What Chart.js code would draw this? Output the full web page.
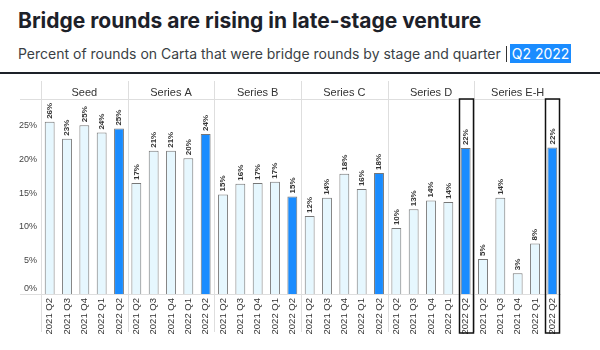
<!DOCTYPE html>
<html>
<head>
<meta charset="utf-8">
<script src="https://cdn.jsdelivr.net/npm/chart.js@4"></script>
<style>
  body { margin: 0; width: 600px; height: 350px; background: #fff; font-family: Inter, "Noto Sans", sans-serif; position: relative; overflow: hidden; }
  h1 { position: absolute; left: 18px; top: 8px; margin: 0; font-size: 21px; line-height: 26px; font-weight: 700; color: #1d2129; }
  .sub { position: absolute; left: 18px; top: 45px; font-size: 14px; color: #3a3f45; white-space: nowrap; }
  .pipe { display: inline-block; width: 1px; height: 16px; background: #333; vertical-align: -3px; margin: 0 3px 0 5px; }
  .tag { background: #1a8cff; color: #fff; padding: 1px 2px; }
  .rule { position: absolute; left: 0; top: 72px; width: 600px; height: 2px; background: #1d2129; }
  #wrap { position: absolute; left: 0; top: 76px; width: 600px; height: 274px; }
</style>
</head>
<body>
<h1>Bridge rounds are rising in late-stage venture</h1>
<div class="sub">Percent of rounds on Carta that were bridge rounds by stage and quarter<span class="pipe"></span><span class="tag">Q2 2022</span></div>
<div class="rule"></div>
<div id="wrap"><canvas id="chart" width="600" height="274"></canvas></div>
<script>
// chart data
const stages = ['Seed', 'Series A', 'Series B', 'Series C', 'Series D', 'Series E-H'];
const quarters = ['2021 Q2', '2021 Q3', '2021 Q4', '2022 Q1', '2022 Q2'];
const seed = [25.6, 23.1, 25.1, 24.0, 24.6];
const seriesA = [16.5, 21.3, 21.3, 20.2, 23.8];
const seriesB = [14.8, 16.4, 16.5, 16.7, 14.5];
const seriesC = [11.6, 14.3, 17.9, 15.6, 18.0];
const seriesD = [9.8, 12.6, 13.9, 13.7, 21.7];
const seriesEH = [5.2, 14.3, 3.1, 7.5, 21.8];
const yTicks = [0, 5, 10, 15, 20, 25];
const boxedStages = ['Series D', 'Series E-H'];

const BLUE = '#1a8cff';
const LIGHT = '#e6f7fe';
const LABEL_FONT = '"Liberation Sans", Arial, sans-serif';

// flatten stages x quarters into one category axis
const stageValues = [seed, seriesA, seriesB, seriesC, seriesD, seriesEH];
const labels = [];
const values = [];
stageValues.forEach(arr => {
    quarters.forEach((q, i) => {
        labels.push(q);
        values.push(arr[i]);
    });
});
const lastQ = quarters.length - 1;
const colors = values.map((v, i) => (i % quarters.length === lastQ ? BLUE : LIGHT));
const boxedIdx = boxedStages.map(s => stages.indexOf(s) * quarters.length + lastQ);

const panelPlugin = {
    id: 'panels',
    beforeDatasetsDraw(chart) {
        const ctx = chart.ctx;
        const a = chart.chartArea;
        const w = (a.right - a.left) / stages.length;
        ctx.save();
        ctx.strokeStyle = '#dedede';
        ctx.lineWidth = 1;
        ctx.beginPath();
        ctx.moveTo(20, Math.round(a.top) + 0.5);
        ctx.lineTo(a.right, Math.round(a.top) + 0.5);
        ctx.moveTo(20, Math.round(a.bottom) + 0.5);
        ctx.lineTo(a.right, Math.round(a.bottom) + 0.5);
        for (let i = 0; i < stages.length; i++) {
            const px = Math.round(a.left + i * w) + 0.5;
            ctx.moveTo(px, 5);
            ctx.lineTo(px, a.bottom + 38);
        }
        ctx.stroke();

        // stage headers
        ctx.fillStyle = '#333';
        ctx.font = '11px ' + LABEL_FONT;
        ctx.textAlign = 'center';
        ctx.textBaseline = 'middle';
        stages.forEach((s, i) => ctx.fillText(s, a.left + (i + 0.5) * w, 17));

        // 0% label sits just above the baseline
        ctx.fillStyle = '#444';
        ctx.font = '9px ' + LABEL_FONT;
        ctx.textAlign = 'right';
        ctx.fillText('0%', a.left - 4, a.bottom - 5);
        ctx.restore();
    },
    afterDatasetsDraw(chart) {
        const ctx = chart.ctx;
        const a = chart.chartArea;
        const meta = chart.getDatasetMeta(0);
        ctx.save();
        // value labels, rotated
        ctx.fillStyle = '#333';
        ctx.font = 'bold 8px ' + LABEL_FONT;
        ctx.textAlign = 'left';
        ctx.textBaseline = 'middle';
        meta.data.forEach((bar, i) => {
            ctx.save();
            ctx.translate(bar.x, bar.y - 3);
            ctx.rotate(-Math.PI / 2);
            ctx.fillText(Math.round(values[i]) + '%', 0, 0);
            ctx.restore();
        });
        // boxes around the late-stage Q2 2022 bars
        ctx.strokeStyle = '#111';
        ctx.lineWidth = 1.5;
        boxedIdx.forEach(i => {
            const bar = meta.data[i];
            ctx.strokeRect(Math.round(bar.x - 7) + 0.5, a.top, 14, a.bottom + 39 - a.top);
        });
        ctx.restore();
    }
};

new Chart(document.getElementById('chart'), {
    type: 'bar',
    data: {
        labels: labels,
        datasets: [{
            data: values,
            backgroundColor: colors,
            borderColor: '#777',
            borderWidth: 1,
            barPercentage: 0.57,
            categoryPercentage: 1
        }]
    },
    options: {
        responsive: false,
        animation: false,
        layout: { padding: { top: 23, right: 39, left: 0, bottom: 0 } },
        plugins: {
            legend: { display: false },
            tooltip: { enabled: false }
        },
        scales: {
            x: {
                grid: { display: false, drawTicks: false },
                border: { display: false },
                ticks: {
                    autoSkip: false,
                    maxRotation: 90,
                    minRotation: 90,
                    padding: 4,
                    color: '#333',
                    font: { family: LABEL_FONT, size: 9.5 }
                },
                afterFit: s => { s.height = 56; }
            },
            y: {
                min: 0,
                max: 29,
                grid: { display: false, drawTicks: false },
                border: { display: false },
                afterBuildTicks: s => { s.ticks = yTicks.map(v => ({ value: v })); },
                ticks: {
                    padding: 4,
                    color: '#444',
                    font: { family: LABEL_FONT, size: 9 },
                    callback: v => (v === 0 ? '' : v + '%')
                },
                afterFit: s => { s.width = 41; }
            }
        }
    },
    plugins: [panelPlugin]
});
</script>
</body>
</html>
